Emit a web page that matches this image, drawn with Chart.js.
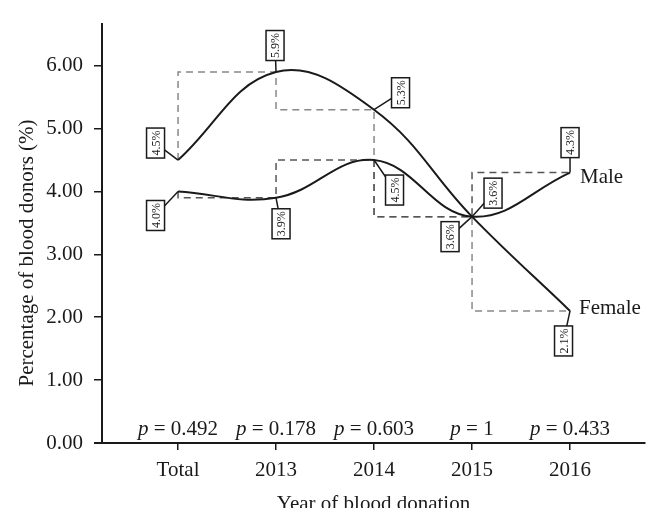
<!DOCTYPE html>
<html>
<head>
<meta charset="utf-8">
<script src="https://cdn.jsdelivr.net/npm/chart.js@4"></script>
<style>
html,body{margin:0;padding:0;background:#fff;}
#wrap{width:660px;height:522px;position:relative;}
</style>
</head>
<body>
<div id="wrap"><canvas id="c" width="660" height="522"></canvas></div>
<script>
const categories = ['Total', '2013', '2014', '2015', '2016'];
const maleValues = [4.0, 3.9, 4.5, 3.6, 4.3];
const femaleValues = [4.5, 5.9, 5.3, 3.6, 2.1];
const pValues = ['0.492', '0.178', '0.603', '1', '0.433'];
const yTicks = [0, 1, 2, 3, 4, 5, 6];
const seriesNames = ['Male', 'Female'];
const yTitle = 'Percentage of blood donors (%)';
const xTitle = 'Year of blood donation';

const SERIF = '"Liberation Serif", "DejaVu Serif", serif';
const TXT = '#1a1a1a';
const FS = 21;

const toPts = arr => arr.map((v, i) => ({x: i, y: v}));

// label box offsets (pixels, relative to each point)
const femaleBoxOff = [[-22.5,-17],[-1,-26.5],[26.5,-17],[-22,20],[-6.5,30]];
const maleBoxOff = [[-22.5,24],[5,26],[20.5,30],[21,-23.5],[0,-30]];

const annot = {
  id: 'annot',
  afterDatasetsDraw(chart) {
    const ctx = chart.ctx;
    const xs = chart.scales.x, ys = chart.scales.y;
    ctx.save();
    ctx.strokeStyle = TXT; ctx.lineWidth = 2;
    ctx.beginPath(); ctx.moveTo(94, ys.getPixelForValue(0)); ctx.lineTo(103, ys.getPixelForValue(0)); ctx.stroke();

    const drawBoxes = (vals, offs) => {
      vals.forEach((v, i) => {
        const px = xs.getPixelForValue(i), py = ys.getPixelForValue(v);
        const cx = px + offs[i][0], cy = py + offs[i][1];
        ctx.strokeStyle = TXT; ctx.lineWidth = 1.5;
        ctx.beginPath(); ctx.moveTo(px, py); ctx.lineTo(cx, cy); ctx.stroke();
        const w = 18, h = 30;
        ctx.fillStyle = '#fff';
        ctx.fillRect(cx - w/2, cy - h/2, w, h);
        ctx.lineWidth = 1.5;
        ctx.strokeRect(cx - w/2, cy - h/2, w, h);
        ctx.save();
        ctx.translate(cx, cy);
        ctx.rotate(-Math.PI/2);
        ctx.fillStyle = TXT;
        ctx.font = '12px ' + SERIF;
        ctx.textAlign = 'center'; ctx.textBaseline = 'middle';
        ctx.fillText(v.toFixed(1) + '%', 0, 1);
        ctx.restore();
      });
    };
    drawBoxes(femaleValues, femaleBoxOff);
    drawBoxes(maleValues, maleBoxOff);

    ctx.fillStyle = TXT;
    ctx.font = FS + 'px ' + SERIF;
    ctx.textAlign = 'left'; ctx.textBaseline = 'middle';
    const last = categories.length - 1;
    ctx.fillText(seriesNames[0], xs.getPixelForValue(last) + 10, ys.getPixelForValue(maleValues[last]) + 5);
    ctx.fillText(seriesNames[1], xs.getPixelForValue(last) + 9, ys.getPixelForValue(femaleValues[last]) - 2);

    ctx.textBaseline = 'alphabetic';
    pValues.forEach((p, i) => {
      const cx = xs.getPixelForValue(i);
      const base = ys.getPixelForValue(0) - 8;
      ctx.font = 'italic ' + FS + 'px ' + SERIF;
      const w1 = ctx.measureText('p').width;
      ctx.font = FS + 'px ' + SERIF;
      const rest = ' = ' + p;
      const w2 = ctx.measureText(rest).width;
      const x0 = cx - (w1 + w2) / 2;
      ctx.font = 'italic ' + FS + 'px ' + SERIF;
      ctx.textAlign = 'left';
      ctx.fillText('p', x0, base);
      ctx.font = FS + 'px ' + SERIF;
      ctx.fillText(rest, x0 + w1, base);
    });

    ctx.font = FS + 'px ' + SERIF;
    ctx.textAlign = 'center'; ctx.textBaseline = 'alphabetic';
    ctx.save();
    ctx.beginPath(); ctx.rect(0, 480, 660, 28); ctx.clip();
    ctx.fillText(xTitle, (xs.left + xs.right) / 2, 510);
    ctx.restore();
    ctx.textBaseline = 'middle';
    ctx.save();
    ctx.translate(27, 253);
    ctx.rotate(-Math.PI/2);
    ctx.fillText(yTitle, 0, 0);
    ctx.restore();
    ctx.restore();
  }
};

new Chart(document.getElementById('c'), {
  type: 'line',
  data: {
    datasets: [
      {label: 'Male', data: toPts(maleValues), borderColor: TXT, borderWidth: 2, tension: 0.4, pointRadius: 0, fill: false, order: 1},
      {label: 'Female', data: toPts(femaleValues), borderColor: TXT, borderWidth: 2, tension: 0.4, pointRadius: 0, fill: false, order: 1},
      {label: 'Male step', data: toPts(maleValues), borderColor: '#555555', borderWidth: 1.5, borderDash: [7, 5], stepped: 'after', pointRadius: 0, fill: false, order: 2},
      {label: 'Female step', data: toPts(femaleValues), borderColor: '#888888', borderWidth: 1.5, borderDash: [7, 5], stepped: 'after', pointRadius: 0, fill: false, order: 2}
    ]
  },
  options: {
    responsive: false,
    animation: false,
    events: [],
    layout: {padding: {top: 14, right: 15, left: 0, bottom: 0}},
    plugins: {legend: {display: false}, tooltip: {enabled: false}},
    scales: {
      x: {
        type: 'linear', min: -0.776, max: 4.765,
        afterBuildTicks: s => { s.ticks = categories.map((c, i) => ({value: i})); },
        afterFit: s => { s.height = 79; },
        ticks: {callback: v => categories[v], color: TXT, font: {family: SERIF, size: FS}, padding: 8, maxRotation: 0, autoSkip: false},
        grid: {drawOnChartArea: false, drawTicks: true, tickLength: 7, color: TXT, lineWidth: 1.5},
        border: {display: true, color: TXT, width: 2}
      },
      y: {
        type: 'linear', min: 0, max: 6.67,
        afterBuildTicks: s => { s.ticks = yTicks.map(v => ({value: v})); },
        afterFit: s => { s.width = 102; },
        ticks: {callback: v => Number(v).toFixed(2), color: TXT, font: {family: SERIF, size: FS}, padding: 11},
        grid: {drawOnChartArea: false, drawTicks: true, tickLength: 8, color: TXT, lineWidth: 1.5},
        border: {display: true, color: TXT, width: 2}
      }
    }
  },
  plugins: [annot]
});
</script>
</body>
</html>
